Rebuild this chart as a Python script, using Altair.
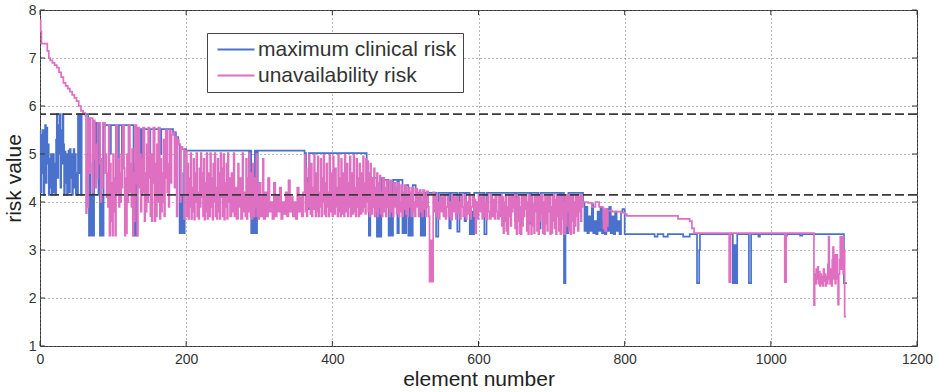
import altair as alt
import pandas as pd

# ---------------- data ----------------
series_names = ["maximum clinical risk", "unavailability risk"]
series_colors = ["#4a72cc", "#df6fc0"]
x_ticks = [0, 200, 400, 600, 800, 1000, 1200]
y_ticks = [1, 2, 3, 4, 5, 6, 7, 8]
thresholds = [5.83, 4.15]

# maximum clinical risk: (element number, risk value)
clin_seg1 = [(0,5.5),(1,4.2),(2,5.4),(3,4.6),(4,5.5),(5,4.15),(6,5.0),(7,5.6),(8,4.4),(9,5.55),
             (10,4.8),(11,5.2),(12,4.15),(13,4.9),(14,4.3),(15,5.0),(16,4.15),(17,4.6),(18,5.0),(19,4.2),
             (20,4.8),(21,4.15),(22,5.3),(23,5.83),(24,4.5),(25,5.6),(26,5.0),(27,5.83),(28,4.3),(29,5.5),
             (30,4.8),(31,5.83),(32,5.2),(33,4.15),(34,5.05),(35,4.4),(36,5.0),(37,4.15),(38,4.7),(39,5.07),
             (40,4.2),(41,5.1),(42,4.5),(43,5.0),(44,4.15),(45,4.8),(46,5.1),(47,4.3),(48,5.0),(49,4.15),
             (50,4.6),(51,4.15),(52,5.83),(53,4.6),(54,5.83),(55,5.2),(56,4.15),(57,5.83)]
clin_seg2 = [(59,5.83),(66,4.6),(67,3.3),(68,5.0),(69,3.3),(70,4.15),(71,3.3),(72,4.8),(73,3.3),(74,5.65),
             (76,4.4),(77,5.65),(80,4.15),(81,5.65),(82,3.3),(83,4.5),(84,3.3),(85,4.15),(86,3.3),(87,5.6),
             (96,5.0),(97,5.6),(104,4.15),(105,5.6),(107,4.5),(108,5.6),(112,5.0),(113,5.6),(128,3.3),(129,4.8),
             (130,3.3),(131,4.5),(132,3.3),(133,5.52),(138,5.0),(139,4.15),(140,5.52),(150,4.9),(151,5.52),
             (165,5.0),(166,5.52),(182,5.45),(186,5.35),(189,5.2),(191,3.35),(193,4.15),(194,3.35),(196,4.6),
             (197,3.35),(198,5.1)]
clin_seg3 = [(200,5.07),(286,4.2),(287,5.07),(289,3.35),(291,4.3),(292,3.35),(294,5.07),(296,3.35),
             (297,4.0),(298,5.07),(362,5.02),(364,3.85),(366,4.5),(367,3.85),(368,5.02)]
clin_seg4 = [(447,4.5),(450,3.3),(452,4.5),(461,3.28),(463,4.2),(465,3.28),(467,4.5),(471,4.46),(477,3.3),
             (479,4.0),(481,3.3),(483,4.46),(489,3.35),(491,4.46),(496,3.35),(498,4.0),(500,3.35),(501,4.35),
             (504,3.3),(506,4.1),(508,3.3),(510,4.35),(514,4.19),(521,3.3),(523,3.9),(525,3.3),(527,4.19),
             (542,3.28),(545,4.19),(560,3.45),(562,4.19),(571,3.38),(574,4.19),(581,3.6),(583,4.19),(588,3.33),
             (590,3.8),(592,3.33),(594,4.19),(608,3.33),(611,4.19),(650,3.6),(652,4.19),(670,3.55),(672,4.19),
             (682,3.45),(685,4.19),(711,3.45),(713,4.19),(717,2.31),(719,4.0),(721,3.35),(723,4.19)]
clin_seg5 = [(743,3.98),(745,3.4),(747,3.9),(749,3.35),(751,3.7),(753,3.4),(755,3.95),(757,3.35),(759,3.6),
             (761,3.33),(763,3.8),(765,3.4),(767,3.9),(769,3.35),(771,3.6),(773,3.33),(775,3.85),(777,3.4),
             (779,3.9),(781,3.35),(783,3.7),(785,3.33),(787,3.8),(789,3.4),(791,3.6),(793,3.33),(795,3.8),
             (797,3.85)]
clin_seg6 = [(800,3.33),(841,3.28),(845,3.33),(853,3.28),(859,3.33),(880,3.28),(889,3.33),(899,2.31),
             (902,3.0),(903,3.33),(948,2.31),(950,3.1),(952,2.31),(954,3.33),(970,2.31),(973,3.33),
             (983,3.28),(985,3.33),(1020,3.3),(1022,3.33),(1040,3.3),(1043,3.33),(1099,3.33),(1100,2.31),
             (1104,2.31)]

# unavailability risk: (element number, risk value)
unav_seg1 = [(0,7.78),(1,7.55),(2,7.3),(10,7.15),(12,7.0),(14,6.95),(17,6.9),(20,6.85),(23,6.8),(26,6.7),
             (29,6.6),(32,6.48),(35,6.42),(38,6.36),(41,6.3),(44,6.23),(47,6.17),(50,6.1),(53,6.0),(56,5.9),
             (59,5.85),(62,5.8)]
unav_seg2 = [(63,3.77),(64,5.0),(65,3.9),(66,5.75),(68,4.6),(69,5.75),(72,4.2),(73,5.7),(75,4.9),(76,4.3),
             (77,5.2),(78,4.5),(79,5.65),(82,4.8),(83,4.0),(84,4.9),(85,4.3),(86,5.65),(89,4.6),(90,5.0),
             (91,4.1),(92,4.6),(93,3.9),(94,5.6),(95,3.3),(96,4.8),(97,3.6),(98,4.4),(99,3.3),(100,5.0),
             (101,3.8),(102,4.5),(103,3.3),(104,5.6),(106,4.2),(107,4.9),(108,3.9),(109,4.6),(110,4.0),
             (111,5.0),(112,4.3),(113,5.6),(115,4.7),(116,3.3),(117,4.5),(118,3.35),(119,5.0),(120,4.0),
             (121,5.6),(123,4.2),(124,4.8),(125,3.9),(126,5.1),(127,3.3),(128,4.6),(129,3.6),(130,5.6),
             (132,4.4),(133,3.3),(134,5.55),(136,4.3),(137,5.0),(138,3.8),(139,4.9),(140,4.2),(141,5.55),
             (143,3.6),(144,4.6),(145,3.8),(146,5.2),(147,4.0),(148,5.55),(150,4.5),(151,3.7),(152,5.0),
             (153,3.6),(154,4.4),(155,5.55),(157,3.6),(158,4.8),(159,3.7),(160,5.2),(161,4.0),(162,5.55),
             (164,3.65),(165,4.9),(166,3.8),(167,4.6),(168,4.0),(169,5.3),(170,3.7),(171,4.5),(172,5.5),
             (174,4.2),(175,4.8),(176,3.9),(177,5.5),(179,4.4),(180,5.4),(182,5.45),(184,4.3),(185,5.35),
             (187,3.7),(188,5.3),(190,5.2),(192,4.0),(193,5.15),(195,5.1),(197,3.65),(198,5.07)]
unav_seg3 = [(200,5.07),(201,3.7),(202,4.8),(203,3.65),(204,4.5),(205,3.9),(206,5.02),(207,3.65),(208,4.3),
             (209,3.8),(210,4.9),(211,3.63),(212,4.6),(213,4.0),(214,5.02),(215,3.7),(216,4.2),(217,3.65),
             (218,4.7),(219,3.9),(220,5.02),(221,4.1),(222,4.6),(223,3.7),(224,4.9),(225,3.63),(226,4.4),
             (227,3.8),(228,5.02),(229,3.65),(230,4.2),(231,4.6),(232,3.7),(233,5.02),(234,3.9),(235,4.5),
             (236,3.63),(237,4.8),(238,4.0),(239,5.02),(240,3.7),(241,4.3),(242,3.65),(243,4.9),(244,3.8),
             (245,4.6),(246,3.65),(247,5.02),(248,4.1),(249,4.7),(250,3.7),(251,5.0),(252,3.63),(253,4.4),
             (254,3.9),(255,4.8),(256,3.65),(257,5.02),(258,4.0),(259,4.5),(260,3.7),(262,4.6),(263,3.8),
             (265,5.02),(266,3.7),(268,4.3),(269,3.65),(271,4.8),(272,3.9),(274,4.5),(275,3.65),(277,5.02),
             (278,3.8),(280,4.2),(281,3.7),(282,4.9),(283,3.65),(284,4.5),(285,3.8),(286,5.02),(287,4.0),
             (288,3.7),(289,4.6),(290,3.65),(291,4.8),(292,4.0),(293,3.7),(294,4.5),(295,3.9),(296,5.0),
             (297,3.7),(298,4.3),(299,3.65)]
unav_seg4 = [(300,4.4),(302,3.7),(304,4.1),(305,4.9),(306,3.65),(308,4.2),(310,3.7),(312,4.5),(314,3.8),
             (316,4.0),(318,3.65),(320,4.4),(322,3.7),(324,4.15),(326,3.8),(328,4.3),(330,3.65),(332,4.0),
             (334,3.75),(336,4.2),(338,3.7),(340,4.45),(342,3.8),(344,4.1),(346,3.7),(348,4.0),(350,3.65),
             (352,4.3),(354,3.8),(356,4.1),(358,3.7),(360,4.2),
             (362,4.98),(363,3.8),(364,4.7),(365,3.7),(366,4.4),(367,3.9),(368,4.98),(369,4.0),(370,3.75),
             (371,4.8),(372,3.7),(373,4.3),(374,3.85),(375,4.98),(376,4.1),(377,3.7),(378,4.6),(379,3.8),
             (380,4.95),(381,3.7),(382,4.2),(383,3.9),(384,4.9),(385,3.7),(386,4.5),(387,4.0),(388,4.98),
             (389,3.75),(390,4.4),(391,3.7),(392,4.8),(393,3.9),(394,4.2),(395,3.7),(396,4.98),(397,4.0),
             (398,3.8),(399,4.6),(400,3.7),(401,4.95),(402,4.1),(403,3.75),(404,4.7),(405,3.9),(406,4.3),
             (407,3.7),(408,4.98),(409,3.8),(410,4.5),(411,3.7),(412,4.9),(413,4.0),(414,3.75),(415,4.6),
             (416,3.7),(417,4.98),(418,4.2),(419,3.8),(420,4.8),(421,3.7),(422,4.4),(423,3.9),(424,4.95),
             (425,3.7),(426,4.6),(427,4.0),(428,3.75),(429,4.98),(430,3.8),(431,4.3),(432,3.7),(433,4.9),
             (434,3.9),(435,4.5),(436,3.7),(437,4.8),(438,4.0),(439,3.75),(440,4.6),(441,3.8),(442,4.95),
             (443,3.9),(444,4.4),(445,3.75),(446,4.9),(447,4.0)]
unav_seg5 = [(448,4.85),(449,3.8),(450,4.6),(451,3.7),(452,4.8),(453,4.0),(454,3.75),(455,4.5),(456,3.9),
             (457,4.7),(458,3.7),(459,4.3),(460,3.8),(461,4.6),(462,3.7),(463,4.4),(464,3.9),(465,4.55),
             (466,3.75),(467,4.2),(468,3.7),(469,4.5),(471,3.8),(472,4.3),(473,3.7),(474,4.45),(476,3.9),
             (477,4.2),(478,3.7),(479,4.45),(481,3.8),(482,4.1),(483,3.7),(484,4.4),(486,3.9),(487,4.3),
             (488,3.75),(489,4.4),(491,3.7),(492,4.0),(493,3.8),(494,4.35),(496,3.7),(497,4.2),(498,3.85),
             (499,4.35),(501,3.75),(502,4.1),(503,3.7),(504,4.3),(506,3.9),(507,4.2),(508,3.7),(509,4.3),
             (511,3.8),(512,4.0),(513,3.7),(514,4.28),(516,3.9),(517,4.1),(518,3.7),(519,4.25),(521,3.8),
             (522,4.0),(523,3.7),(524,4.25),(526,3.85),(527,4.1),(528,3.7),(529,4.22),(531,3.9),(532,3.7),
             (533,2.34),(535,3.2),(536,2.34),(538,4.2),
             (540,3.8),(541,4.15),(543,3.7),(544,4.0),(546,3.65),(547,4.15),(549,3.8),(550,4.1),(552,3.7),
             (553,4.15),(555,3.65),(556,3.9),(558,4.15),(559,3.7),(561,4.0),(562,3.63),(564,4.15),(566,3.8),
             (567,4.1),(569,3.65),(570,4.15),(572,3.75),(573,4.0),(575,3.65),(576,4.15),(578,3.9),(579,3.7),
             (581,4.15),(583,3.65),(584,4.0),(586,3.75),(587,4.15),(589,3.65),(590,3.9),(592,4.15),(594,3.7),
             (595,4.05),(596,3.35),(597,4.0),(598,3.65),(600,4.15),(602,3.8),(603,4.1),(605,3.65),(606,4.15),
             (608,3.7),(609,4.0),(611,3.63),(612,4.15),(614,3.8),(615,3.65),(617,4.15),(619,3.7),(620,4.05),
             (622,3.65),(623,4.15),(625,3.8),(626,3.65),(628,4.15),(630,3.7)]
unav_seg6 = [(631,4.15),(632,3.5),(633,4.1),(634,3.35),(635,4.0),(636,3.6),(637,4.15),(638,3.4),(639,3.9),
             (640,3.33),(641,4.15),(642,3.7),(643,4.1),(644,3.5),(645,4.15),(646,3.8),(647,4.15),(648,3.9),
             (649,4.15),(650,3.45),(651,4.05),(652,3.33),(653,4.15),(654,3.6),(655,4.1),(656,3.35),(657,3.9),
             (658,3.33),(659,4.15),(660,3.5),(661,4.15),(662,3.7),(663,4.15),(664,3.85),(665,4.15),(666,3.4),
             (667,4.0),(668,3.33),(669,4.15),(670,3.6),(671,4.1),(672,3.33),(673,4.15),(674,3.5),(675,3.95),
             (676,3.35),(677,4.15),(678,3.8),(679,4.15),(680,3.4),(681,4.1),(682,3.33),(683,4.15),(684,3.6),
             (685,4.15),(686,3.75),(687,4.15),(688,3.35),(689,4.0),(690,3.33),(691,4.15),(692,3.55),(693,4.1),
             (694,3.4),(695,4.15),(696,3.8),(697,4.15),(698,3.33),(699,3.9),(700,3.35),(701,4.15),(702,3.6),
             (703,4.15),(704,3.45),(705,4.05),(706,3.33),(707,4.15),(708,3.7),(709,4.15),(710,3.4),(711,4.1),
             (712,3.33),(713,4.15),(714,3.65),(715,4.15),(716,3.35),(717,4.0),(718,3.33),(719,4.15),(720,3.5),
             (721,4.15),(722,3.8),(723,4.15),(724,3.4),(725,4.1),(726,3.33),(727,4.15),(728,3.6),(729,4.15),
             (730,3.35),(731,4.0),(732,3.5),(733,4.15),(734,3.7),(735,4.15),(736,3.4),(737,4.1),(738,3.8),
             (739,4.15),(740,3.6),(741,4.15),(742,3.9),
             (743,4.0),(750,3.98),(755,3.9),(760,4.0),(765,3.9),(770,3.88),(771,3.45),(772,3.85),(773,3.4),
             (775,3.85),(776,3.5),(777,3.82),(783,3.8),(790,3.8),(795,3.78),(800,3.75)]
unav_seg7 = [(803,3.71),(873,3.65),(889,3.6),(892,3.45),(895,3.35),(942,3.35),(943,2.33),(945,3.35),
             (1018,3.35),(1019,2.33),(1021,3.35),(1058,3.35),(1059,1.85),(1060,2.5),(1061,2.3),(1062,2.6),
             (1063,2.4),(1064,2.65),(1065,2.3),(1066,2.55),(1067,2.25),(1068,2.5),(1069,2.3),(1070,2.45),
             (1071,2.25),(1072,2.6),(1073,2.35),(1074,2.5),(1075,2.25),(1076,2.45),(1077,2.3),(1078,2.7),
             (1079,3.28),(1080,2.4),(1081,2.3),(1082,2.6),(1083,2.25),(1084,2.8),(1085,3.06),(1086,2.4),
             (1087,2.9),(1088,2.3),(1089,2.7),(1090,2.9),(1091,2.4),(1092,1.86),(1093,2.5),(1094,2.8),
             (1095,3.28),(1096,2.6),(1097,3.1),(1098,3.28),(1099,2.5),(1100,3.0),(1101,1.61),(1103,1.61)]

# ---------------- build table ----------------
rows = []
for seg in [clin_seg1, clin_seg2, clin_seg3, clin_seg4, clin_seg5, clin_seg6]:
    for e, v in seg:
        rows.append({"element": e, "risk": v, "series": series_names[0]})
for seg in [unav_seg1, unav_seg2, unav_seg3, unav_seg4, unav_seg5, unav_seg6, unav_seg7]:
    for e, v in seg:
        rows.append({"element": e, "risk": v, "series": series_names[1]})
df = pd.DataFrame(rows)

FONT = "Liberation Sans"
W, H = 877, 336

x_scale = alt.Scale(domain=[0, 1200], nice=False)
y_scale = alt.Scale(domain=[1, 8], nice=False, zero=False)

x_axis = alt.Axis(values=x_ticks, format="d", title="element number", grid=True, ticks=False, domain=False,
                  gridColor="#777", gridDash=[1, 3], gridWidth=1,
                  labelFont=FONT, labelFontSize=14, labelColor="#333", labelPadding=6,
                  titleFont=FONT, titleFontSize=21, titleFontWeight="normal", titleColor="#222",
                  titlePadding=2, labelFlush=False)
y_axis = alt.Axis(values=y_ticks, format="d", title="risk value", grid=True, ticks=False, domain=False,
                  gridColor="#777", gridDash=[1, 3], gridWidth=1,
                  labelFont=FONT, labelFontSize=14, labelColor="#333", labelPadding=4,
                  titleFont=FONT, titleFontSize=21, titleFontWeight="normal", titleColor="#222",
                  titlePadding=4, labelFlush=False)

X = alt.X("element:Q", scale=x_scale, axis=x_axis, title="element number")
Y = alt.Y("risk:Q", scale=y_scale, axis=y_axis, title="risk value")

lines = alt.Chart(df).mark_line(interpolate="step-after", strokeWidth=1.7).encode(
    x=X, y=Y,
    color=alt.Color("series:N", scale=alt.Scale(domain=series_names, range=series_colors),
                    legend=alt.Legend(title=None, orient="none", legendX=167, legendY=23,
                                      direction="vertical", strokeColor="#444", fillColor="white",
                                      padding=6, symbolType="M0,0H7.4", symbolSize=100,
                                      symbolStrokeWidth=2, symbolOffset=-6, labelOffset=30,
                                      labelFont=FONT, labelFontSize=21, labelColor="#333",
                                      labelLimit=400, rowPadding=4)),
)

thr = alt.Chart(pd.DataFrame({"risk": thresholds})).mark_rule(
    color="#3a3a3a", strokeDash=[9, 4], strokeWidth=1.8
).encode(y=Y)

xt = pd.DataFrame({"element": x_ticks})
yt = pd.DataFrame({"risk": y_ticks})
tick_x_bottom = alt.Chart(xt).mark_rule(color="#333").encode(x=X, y=alt.value(H), y2=alt.value(H - 5))
tick_x_top = alt.Chart(xt).mark_rule(color="#333").encode(x=X, y=alt.value(0), y2=alt.value(5))
tick_y_left = alt.Chart(yt).mark_rule(color="#333").encode(y=Y, x=alt.value(0), x2=alt.value(5))
tick_y_right = alt.Chart(yt).mark_rule(color="#333").encode(y=Y, x=alt.value(W), x2=alt.value(W - 5))

chart = alt.layer(lines, thr, tick_x_bottom, tick_x_top, tick_y_left, tick_y_right).properties(
    width=W, height=H,
    padding={"left": 40, "top": 10, "right": 22, "bottom": 46},
    autosize=alt.AutoSizeParams(type="none"),
    background="white",
).configure_view(stroke="#333", strokeWidth=1)

chart.save("out.html", embed_options={"renderer": "svg", "actions": False})
